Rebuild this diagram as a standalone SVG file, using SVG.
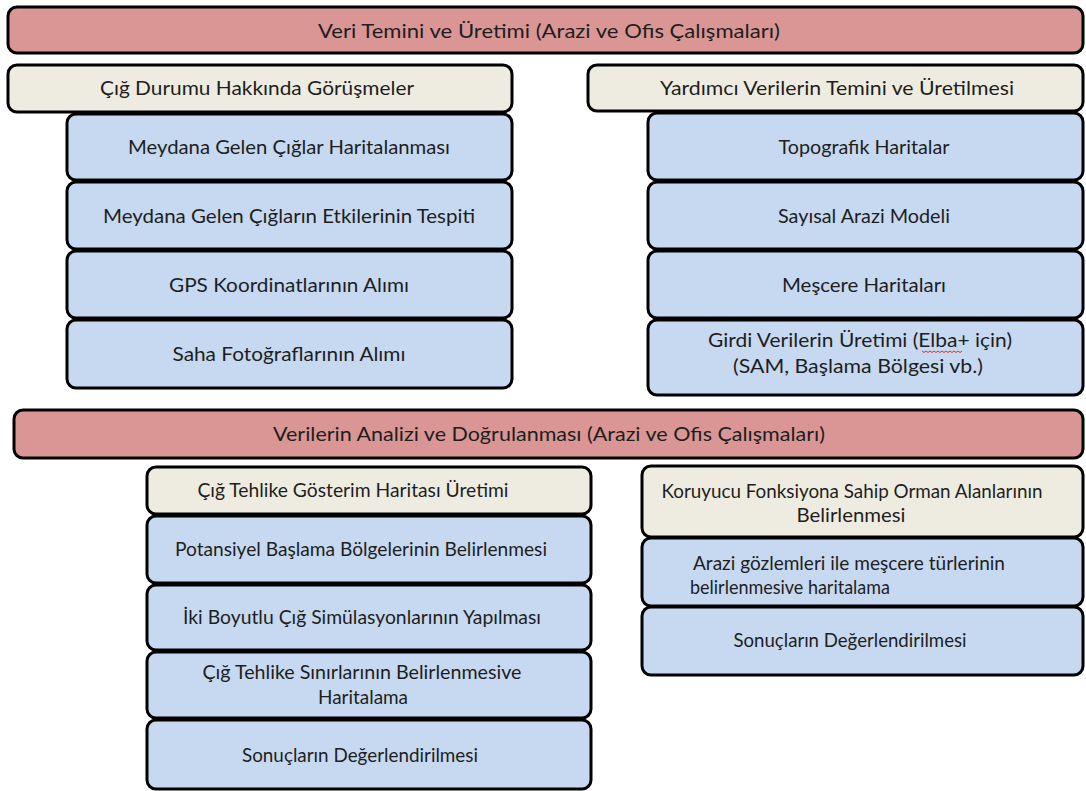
<svg xmlns="http://www.w3.org/2000/svg" width="1086" height="791" viewBox="0 0 1086 791">
<style>
.box{stroke:#000;stroke-width:3}
.red{fill:#d99694}
.beige{fill:#eeece1}
.blue{fill:#c6d9f1}
text{font-family:Lato,"Liberation Sans",sans-serif;font-size:20px;fill:#1e1e1e;text-anchor:middle}
.sq{fill:none;stroke:#e03030;stroke-width:1}
</style>
<rect width="1086" height="791" fill="#fff"/>
<g id="connectors"></g>
<g id="n1"><rect class="box red" x="8" y="7" width="1075" height="46" rx="9"/><text x="549" y="38" textLength="462" lengthAdjust="spacingAndGlyphs">Veri Temini ve Üretimi (Arazi ve Ofis Çalışmaları)</text></g>
<g id="n2"><rect class="box beige" x="8" y="65" width="504" height="47" rx="9"/><text x="257" y="95" textLength="314" lengthAdjust="spacingAndGlyphs">Çığ Durumu Hakkında Görüşmeler</text></g>
<g id="n3"><rect class="box blue" x="67" y="114" width="445" height="66" rx="9"/><text x="289" y="154" textLength="322" lengthAdjust="spacingAndGlyphs">Meydana Gelen Çığlar Haritalanması</text></g>
<g id="n4"><rect class="box blue" x="67" y="182" width="445" height="67" rx="9"/><text x="289" y="223" textLength="372" lengthAdjust="spacingAndGlyphs">Meydana Gelen Çığların Etkilerinin Tespiti</text></g>
<g id="n5"><rect class="box blue" x="67" y="251" width="445" height="67" rx="9"/><text x="289" y="292" textLength="240" lengthAdjust="spacingAndGlyphs">GPS Koordinatlarının Alımı</text></g>
<g id="n6"><rect class="box blue" x="67" y="320" width="445" height="68" rx="9"/><text x="289" y="361" textLength="233" lengthAdjust="spacingAndGlyphs">Saha Fotoğraflarının Alımı</text></g>
<g id="n7"><rect class="box beige" x="588" y="65" width="495" height="46" rx="9"/><text x="837" y="95" textLength="354" lengthAdjust="spacingAndGlyphs">Yardımcı Verilerin Temini ve Üretilmesi</text></g>
<g id="n8"><rect class="box blue" x="648" y="113" width="435" height="67" rx="9"/><text x="864" y="154" textLength="171" lengthAdjust="spacingAndGlyphs">Topografik Haritalar</text></g>
<g id="n9"><rect class="box blue" x="648" y="182" width="435" height="67" rx="9"/><text x="864" y="223" textLength="172" lengthAdjust="spacingAndGlyphs">Sayısal Arazi Modeli</text></g>
<g id="n10"><rect class="box blue" x="648" y="251" width="435" height="67" rx="9"/><text x="864" y="292" textLength="164" lengthAdjust="spacingAndGlyphs">Meşcere Haritaları</text></g>
<g id="n11"><rect class="box blue" x="648" y="320" width="435" height="75" rx="9"/><text x="860" y="347" textLength="304" lengthAdjust="spacingAndGlyphs">Girdi Verilerin Üretimi (Elba+ için)</text><text x="858" y="373" textLength="250" lengthAdjust="spacingAndGlyphs">(SAM, Başlama Bölgesi vb.)</text><path class="sq" d="M922 351 l2 1.5 l2 -1.5 l2 1.5 l2 -1.5 l2 1.5 l2 -1.5 l2 1.5 l2 -1.5 l2 1.5 l2 -1.5 l2 1.5 l2 -1.5 l2 1.5 l2 -1.5 l2 1.5 l2 -1.5 l2 1.5 l2 -1.5 l2 1.5 l2 -1.5"/></g>
<g id="n12"><rect class="box red" x="14" y="410" width="1069" height="48" rx="9"/><text x="549" y="441" textLength="552" lengthAdjust="spacingAndGlyphs">Verilerin Analizi ve Doğrulanması (Arazi ve Ofis Çalışmaları)</text></g>
<g id="n13"><rect class="box beige" x="147" y="467" width="444" height="47" rx="9"/><text x="353" y="497" textLength="311" lengthAdjust="spacingAndGlyphs">Çığ Tehlike Gösterim Haritası Üretimi</text></g>
<g id="n14"><rect class="box blue" x="147" y="516" width="444" height="67" rx="9"/><text x="361" y="556" textLength="372" lengthAdjust="spacingAndGlyphs">Potansiyel Başlama Bölgelerinin Belirlenmesi</text></g>
<g id="n15"><rect class="box blue" x="147" y="585" width="444" height="65" rx="9"/><text x="362" y="624" textLength="358" lengthAdjust="spacingAndGlyphs">İki Boyutlu Çığ Simülasyonlarının Yapılması</text></g>
<g id="n16"><rect class="box blue" x="147" y="652" width="444" height="66" rx="9"/><text x="362" y="679" textLength="319" lengthAdjust="spacingAndGlyphs">Çığ Tehlike Sınırlarının Belirlenmesive</text><text x="363" y="704" textLength="90" lengthAdjust="spacingAndGlyphs">Haritalama</text></g>
<g id="n17"><rect class="box blue" x="147" y="720" width="444" height="69" rx="9"/><text x="360" y="762" textLength="236" lengthAdjust="spacingAndGlyphs">Sonuçların Değerlendirilmesi</text></g>
<g id="n18"><rect class="box beige" x="642" y="466" width="441" height="71" rx="9"/><text x="852" y="498" textLength="381" lengthAdjust="spacingAndGlyphs">Koruyucu Fonksiyona Sahip Orman Alanlarının</text><text x="851" y="522" textLength="109" lengthAdjust="spacingAndGlyphs">Belirlenmesi</text></g>
<g id="n19"><rect class="box blue" x="642" y="538" width="441" height="68" rx="9"/><text x="849" y="570" textLength="312" lengthAdjust="spacingAndGlyphs">Arazi gözlemleri ile meşcere türlerinin</text><text x="690" y="594" style="text-anchor:start;font-size:19px" textLength="200" lengthAdjust="spacingAndGlyphs">belirlenmesive haritalama</text></g>
<g id="n20"><rect class="box blue" x="642" y="607" width="441" height="68" rx="9"/><text x="850" y="647" textLength="233" lengthAdjust="spacingAndGlyphs">Sonuçların Değerlendirilmesi</text></g>
</svg>
